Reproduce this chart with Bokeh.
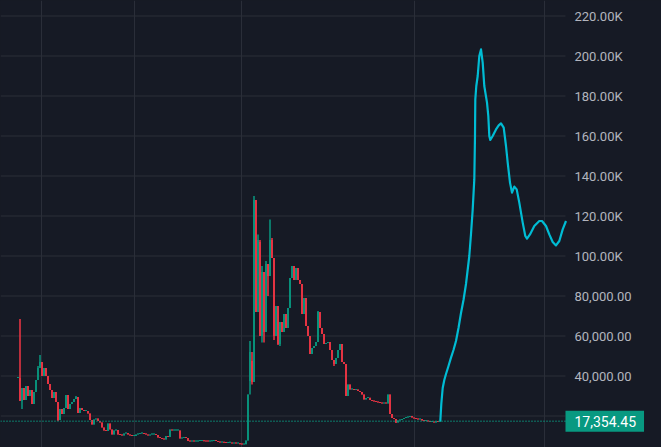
from bokeh.plotting import figure
from bokeh.models import Range1d, FixedTicker, ColumnDataSource
from bokeh.core.properties import value
from bokeh.embed import file_html
from bokeh.resources import INLINE

# ---- candle data (values in thousands, one candle per index) ----
first_open = 39.0
closes = [
    39, 27.5, 34, 28, 35, 30, 33, 26, 32, 38,
    44, 47, 40, 44, 40, 36, 33, 29, 32, 27,
    18, 23.5, 21, 24, 30.5, 23.5, 26, 27, 28.5, 29.5,
    21.5, 24, 23, 22.5,
    22.5, 21.3, 18, 15.8, 18.3, 18.7, 17.5, 16.7, 14.2, 12.8,
    12.5, 16.2, 13.3, 10.8, 12.8, 13, 10.8, 10.5, 10.3, 11.3,
    11.5, 10.8, 10.3, 10, 10, 10.8, 11, 11.3, 11.3, 11,
    10.8, 10.3, 10.8, 10.8, 10.8, 10.5, 9.2, 9, 8.5, 8.3,
    10, 9.5, 13.3, 12.8, 12.8, 12.8, 12.8, 8.8, 9, 9.2,
    9, 7.5, 7.3, 7.3, 7.2, 7.3, 7.5, 7.5, 7.6, 7.4,
    7.3, 7.2, 7.4, 7.5, 7.6, 7.5, 7.0, 6.7, 6.8, 6.6,
    6.5, 6.6, 6.7, 6.3, 6.4, 6.2, 6.3, 5.9, 5.8, 5.9,
    7.8, 30.8, 52, 37, 128, 72, 108, 60, 92, 62,
    96, 90, 108, 99, 60, 75, 56, 67, 62, 71,
    64, 74, 89, 95, 88, 94, 88, 86, 71, 79,
    65, 60, 51, 54, 55, 57, 72, 64, 61, 56,
    56.5, 57, 53, 48, 46, 49, 53, 56, 47, 46,
    30, 35.8, 33.3, 33.5, 33, 33.2, 32.5, 32, 30.8, 28.3,
    29, 29.1, 28, 27.5, 27.3, 27, 26.7, 26.5, 26.3, 26.5,
    26.3, 30.8, 21, 19, 18.5, 16.7, 17.8, 18, 18.5, 19,
    19.2, 19.5, 20, 19.2, 18.7, 18.5, 18.2, 18.5, 17.8, 17.5,
    17.7, 17.3, 17.0, 17.2, 16.7, 17.4, 17.0, 17.35,
]
wick_high = {1: 68.5, 10: 45, 11: 50.5, 29: 30, 116: 57.5, 117: 47.5,
             118: 130, 120: 110.8, 121: 107, 122: 95, 124: 97.5,
             126: 118.3, 127: 109, 150: 72.5}
wick_low = {2: 23.5, 20: 17.5, 44: 12.5, 116: 37.5, 117: 35.8, 122: 56.7,
            123: 56.7, 125: 80, 128: 58, 130: 55.5, 131: 55, 158: 45,
            164: 30, 189: 16.5}

# ---- forecast line ----
forecast_x = [211.15, 211.65, 212.35, 213.15, 214, 215.25, 216.5, 217.75, 219,
              220.25, 221.5, 222.75, 224, 225.65, 226.5, 227.35, 228.15, 228.5,
              228.65, 229.15, 229.85, 230.65, 231.5, 232.35, 233.15, 234.5,
              235.15, 235.65, 236.15, 237.35, 239, 240.35, 241.5, 242.85, 244,
              244.85, 246, 247, 248.15, 249.35, 250.65, 252.35, 253.65, 254.5,
              256, 258.15, 260.65, 262, 264, 265.65, 267.35, 269, 270.65,
              272.35, 274]
forecast_y = [17.35, 26, 34, 38, 41, 45, 49.2, 53, 57.5,
              64, 71.5, 78, 86, 100, 111, 123.3, 138.3, 160,
              178.3, 185, 190, 200, 203.3, 196.7, 185, 176.7,
              170, 160, 158, 160, 163.3, 165.3, 166.3, 164.2, 155,
              146.7, 136.7, 131.7, 134.7, 133.3, 126.7, 116.7, 110, 108.7,
              110.8, 115, 117.5, 117.5, 115, 110.8, 107, 105.3, 107.5,
              113.3, 117.5]

time_grid = [11.5, 58, 111.5, 198, 263]
y_ticks = [20, 40, 60, 80, 100, 120, 140, 160, 180, 200, 220]
y_tick_labels = ["20,000.00", "40,000.00", "60,000.00", "80,000.00", "100.00K",
                 "120.00K", "140.00K", "160.00K", "180.00K", "200.00K", "220.00K"]
last_price = 17.35445
last_price_text = "17,354.45"

BG = "#161a25"
GREEN = "#089981"
RED = "#f23645"
GRID = "#2a2e39"
FONT = value("Roboto")
X0, X_EDGE, X1 = -8.75, 273.75, 321.75   # chart area ends at X_EDGE; price scale beyond
MIN_BODY = 0.5                             # one pixel, so flat candles stay visible

opens = [first_open] + closes[:-1]
xs = list(range(len(closes)))
bots = [min(o, c) for o, c in zip(opens, closes)]
tops = [max(o, c, b + MIN_BODY) for o, c, b in zip(opens, closes, bots)]
highs = [wick_high.get(i, t) for i, t in enumerate(tops)]
lows = [wick_low.get(i, b) for i, b in enumerate(bots)]
colors = [GREEN if c >= o else RED for o, c in zip(opens, closes)]
src = ColumnDataSource(dict(x=xs, top=tops, bottom=bots, high=highs, low=lows, color=colors))

p = figure(width=661, height=447, x_range=Range1d(X0, X1), y_range=Range1d(4.25, 227.75),
           output_backend="svg", toolbar_location=None,
           x_axis_location=None, y_axis_location=None, min_border=0)
p.background_fill_color = BG
p.border_fill_color = BG
p.outline_line_color = None

p.xgrid.ticker = FixedTicker(ticks=time_grid)
p.xgrid.grid_line_color = GRID
p.ygrid.grid_line_color = None

# horizontal grid lines limited to the chart area
p.segment(x0=[X0] * len(y_ticks), y0=y_ticks, x1=[X_EDGE] * len(y_ticks), y1=y_ticks,
          line_color=GRID, line_width=1)

# price scale labels
p.text(x=[X_EDGE] * len(y_ticks), y=y_ticks, text=y_tick_labels, x_offset=9,
       text_align="left", text_baseline="middle", text_color="#b2b5be",
       text_font=FONT, text_font_size="13px")

# candles
p.segment(x0="x", y0="low", x1="x", y1="high", color="color", line_width=1.5, source=src)
p.vbar(x="x", width=0.75, top="top", bottom="bottom", fill_color="color",
       line_color=None, source=src)

# forecast
p.line(forecast_x, forecast_y, line_color="#00bcd4", line_width=2.2, line_join="round")

# last price line and tag
p.segment(x0=[X0], y0=[last_price], x1=[X_EDGE], y1=[last_price],
          line_color=GREEN, line_dash="1 2", line_width=1.5)
p.text(x=[X_EDGE], y=[last_price], text=[last_price_text], anchor="center_left",
       text_align="left", text_baseline="middle", text_color="#ffffff",
       text_font=FONT, text_font_size="14px",
       background_fill_color=GREEN,
       padding=dict(left=9, right=8, top=5, bottom=5))

TEMPLATE = """
{% block preamble %}
<style>html, body { margin: 0 !important; padding: 0 !important; background: #161a25; overflow: hidden; }</style>
{% endblock %}
"""
open("out.html", "w").write(file_html(p, INLINE, template=TEMPLATE))
